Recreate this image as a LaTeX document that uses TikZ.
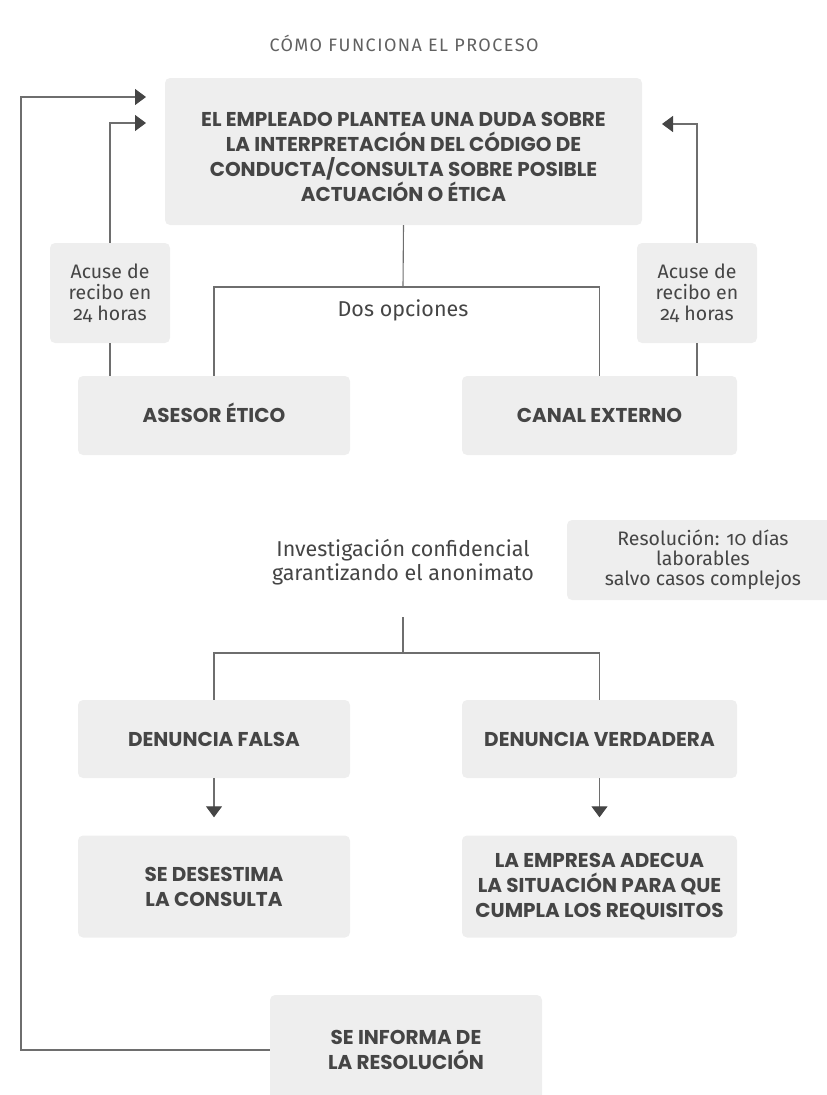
\documentclass[tikz,border=0pt]{standalone}
\usepackage{fontspec}
\setmainfont{Fira Sans}[Numbers=OldStyle]
\newfontfamily\heavy{Poppins}
\newfontfamily\titlef{Fira Sans}[LetterSpace=8.0]
\usetikzlibrary{arrows.meta}
\definecolor{boxgray}{HTML}{EEEEEE}
\definecolor{textdark}{HTML}{454545}
\definecolor{linegray}{HTML}{6E6E6E}
\definecolor{arrowdark}{HTML}{454545}
\begin{document}
\begin{tikzpicture}[x=1pt,y=-1pt,
  box/.style={fill=boxgray, rounded corners=5pt, align=center, inner sep=0pt,
    text=textdark, font=\heavy\bfseries\fontsize{20}{25}\selectfont},
  smallbox/.style={fill=boxgray, rounded corners=5pt, align=center, inner sep=0pt,
    text=textdark, font=\fontsize{19.5}{21}\selectfont},
  plain/.style={align=center, inner sep=0pt, text=textdark, font=\fontsize{21.5}{24}\selectfont},
  lift/.style={text height=#1, text depth=0pt},
  conn/.style={draw=linegray, line width=1.1pt},
  arr/.style={conn, -{Triangle[length=11pt,width=16pt,color=arrowdark]}}
]
\useasboundingbox (0,0) rectangle (827,1095);

\node[text=textdark!85, font=\titlef\fontsize{18}{20}\selectfont] (title) at (404,43) {CÓMO FUNCIONA EL PROCESO};

\node[box, minimum width=477pt, minimum height=147pt] (top) at (403.5,151.5)
  {\rule{0pt}{25pt}EL EMPLEADO PLANTEA UNA DUDA SOBRE\\LA INTERPRETACIÓN DEL CÓDIGO DE\\CONDUCTA/CONSULTA SOBRE POSIBLE\\ACTUACIÓN O ÉTICA};

\node[smallbox, minimum width=120pt, minimum height=100pt] (accL) at (110,293) {Acuse de\\recibo en\\24 horas};
\node[smallbox, minimum width=120pt, minimum height=100pt] (accR) at (697,293) {Acuse de\\recibo en\\24 horas};

\node[plain] (dos) at (403,310) {Dos opciones};

\node[box, lift=14pt, minimum width=272pt, minimum height=79pt] (asesor) at (214,415.5) {ASESOR ÉTICO};
\node[box, lift=14pt, minimum width=275pt, minimum height=79pt] (canal) at (599.5,415.5) {CANAL EXTERNO};

\node[plain] (inv) at (403,562) {Investigación confidencial\\garantizando el anonimato};
\node[smallbox, minimum width=272pt, minimum height=80pt, font=\fontsize{19.5}{20}\selectfont] (resol) at (703,560)
  {Resolución: 10 días\\laborables\\salvo casos complejos};

\node[box, lift=14pt, minimum width=272pt, minimum height=78pt] (falsa) at (214,739) {DENUNCIA FALSA};
\node[box, lift=14pt, minimum width=275pt, minimum height=78pt] (verd) at (599.5,739) {DENUNCIA VERDADERA};

\node[box, minimum width=272pt, minimum height=102pt] (desest) at (214,886.5) {SE DESESTIMA\\LA CONSULTA};
\node[box, minimum width=275pt, minimum height=102pt] (empresa) at (599.5,886.5) {LA EMPRESA ADECUA\\LA SITUACIÓN PARA QUE\\CUMPLA LOS REQUISITOS};

\node[box, minimum width=272pt, minimum height=110pt] (informa) at (406,1050) {SE INFORMA DE\\LA RESOLUCIÓN};

% coordinates
\coordinate (j1) at (403,287);
\coordinate (j2a) at (403,617);
\coordinate (j2b) at (403,653);
\coordinate (outerc) at (21,97);
\coordinate (inOuter) at (146,97);
\coordinate (inL) at (146,123);
\coordinate (inR) at (662,124);

% connectors
\draw[conn] (top.south) -- (j1);
\draw[conn] (asesor.north) |- (j1) -| (canal.north);
\draw[conn] (accL.south) -- (accL.south |- asesor.north);
\draw[arr] (accL.north) |- (inL);
\draw[conn] (accR.south) -- (accR.south |- canal.north);
\draw[arr] (accR.north) |- (inR);
\draw[arr] (informa.west) -| (outerc) -- (inOuter);
\draw[conn] (j2a) -- (j2b);
\draw[conn] (falsa.north) |- (j2b) -| (verd.north);
\draw[arr] (falsa.south) -- ([yshift=18pt]desest.north);
\draw[arr] (verd.south) -- ([yshift=18pt]empresa.north);
\end{tikzpicture}
\end{document}
